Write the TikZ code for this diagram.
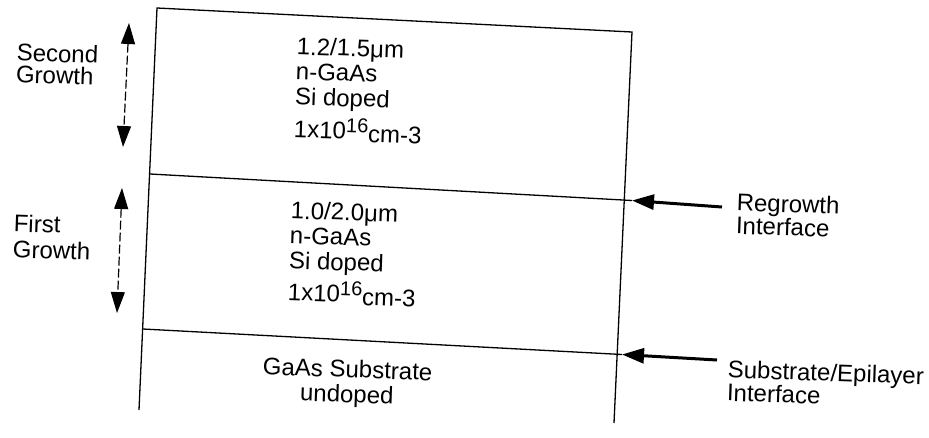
\documentclass[tikz,border=0pt]{standalone}
\usepackage{fontspec}
\setmainfont{Liberation Sans}
\usetikzlibrary{arrows.meta}
\newcommand{\conc}{1x10\raisebox{7pt}{\fontsize{20}{20}\selectfont 16}\raisebox{-2pt}{cm-3}}
\begin{document}
\begin{tikzpicture}[x=1pt,y=-1pt,
  edge/.style={line width=1.3pt},
  lbl/.style={font=\fontsize{24}{22}\selectfont, anchor=north west, align=left, inner sep=0pt, rotate=-2},
  layer/.style={lbl, font=\fontsize{24}{25}\selectfont},
  clbl/.style={lbl, anchor=north, align=center, font=\fontsize{24}{25}\selectfont},
  growth/.style={line width=1.2pt, dash pattern=on 9pt off 3pt,
    {Triangle[length=21pt,width=14pt]}-{Triangle[length=21pt,width=14pt]}},
  iface/.style={line width=3pt, -{Triangle[length=22pt,width=15pt]}}]
\useasboundingbox (0,0) rectangle (929,437);

% corners of the layer stack
\coordinate (tl) at (157,8);
\coordinate (tr) at (632,32);
\coordinate (ml) at (150,174);
\coordinate (mr) at (632,200.5);
\coordinate (bl) at (143,329);
\coordinate (br) at (622,354.5);
\coordinate (ll) at (139,410);
\coordinate (lr) at (614,423);

% outline and interfaces
\draw[edge] (ll) -- (tl) -- (tr) -- (lr);
\draw[edge] (ml) -- (mr);
\draw[edge] (bl) -- (br);

% growth extents
\coordinate (sgt) at (129,23);
\coordinate (sgb) at (123,147);
\coordinate (fgt) at (122,188);
\coordinate (fgb) at (117,313);
\draw[growth] (sgt) -- (sgb);
\draw[growth] (fgt) -- (fgb);

\node[lbl] (sg) at (17,43) {Second\\Growth};
\node[lbl, font=\fontsize{24}{26}\selectfont] (fg) at (14,214) {First\\Growth};

% second growth layer
\node[layer] (up) at (297,37) {1.2/1.5μm\\n-GaAs\\Si doped\\[6pt]\conc};

% first growth layer
\node[layer] (dn) at (291,201) {1.0/2.0μm\\n-GaAs\\Si doped\\[5pt]\conc};

% substrate
\node[clbl] (sub) at (348,360) {GaAs Substrate\\undoped};

% interface pointers
\coordinate (rgs) at (722,207);
\coordinate (ses) at (717,360);
\draw[iface] (rgs) -- (mr);
\draw[iface] (ses) -- (br);

\node[lbl] (rg) at (737,193) {Regrowth\\Interface};
\node[lbl] (se) at (728,360) {Substrate/Epilayer\\Interface};
\end{tikzpicture}
\end{document}
